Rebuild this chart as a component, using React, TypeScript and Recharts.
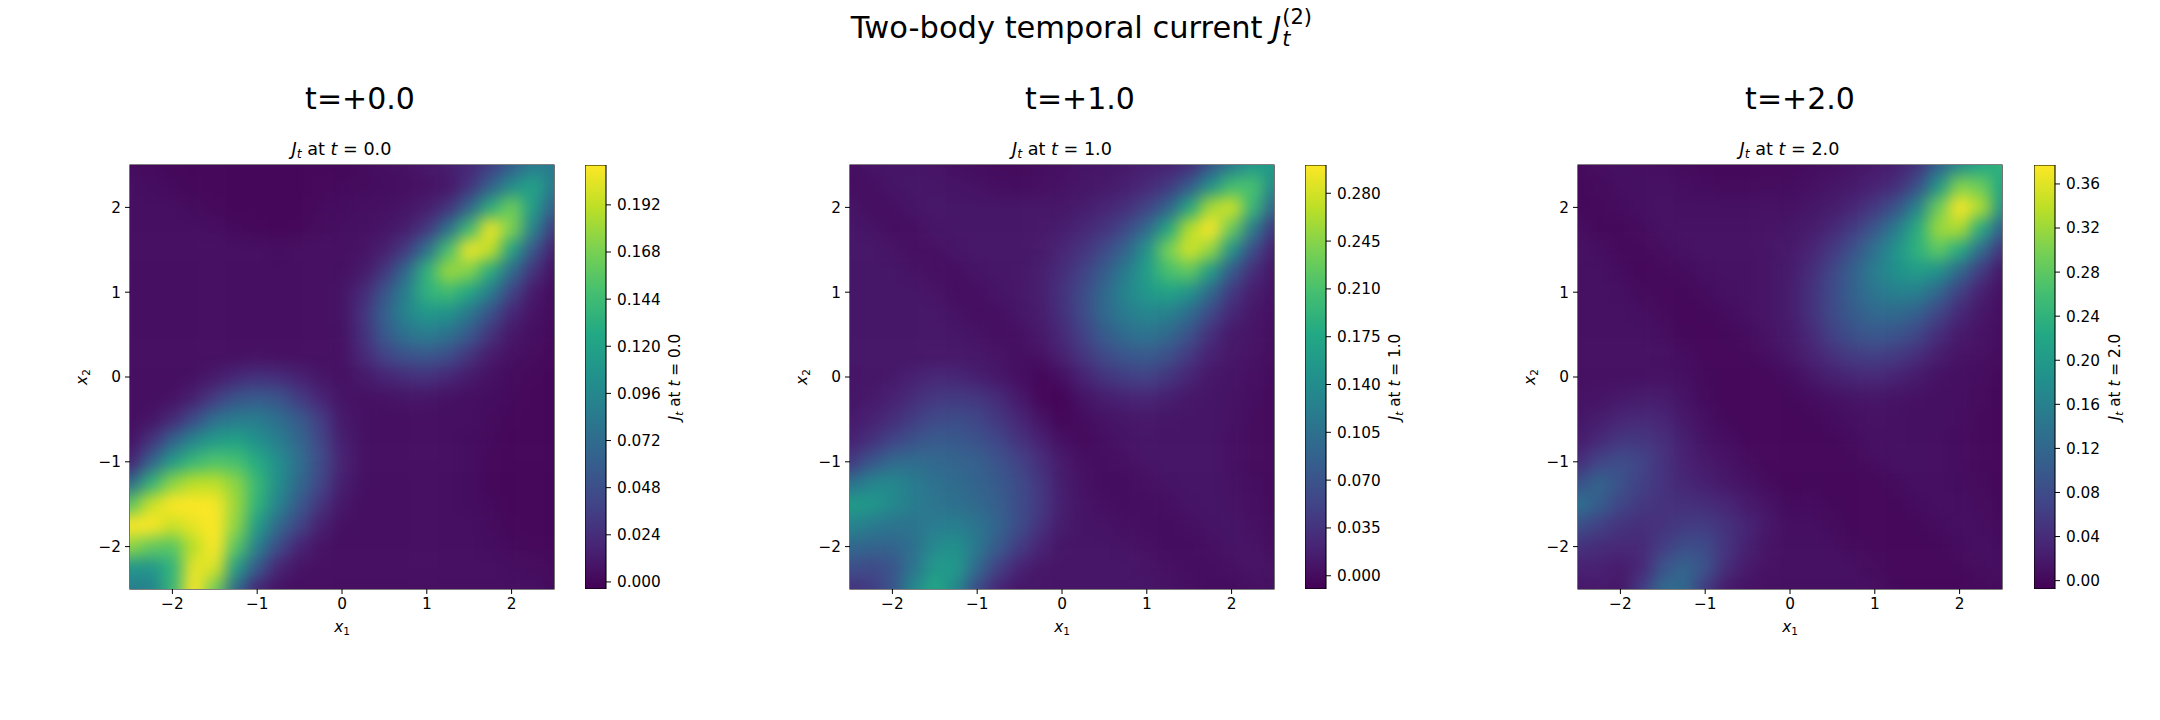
import React from "react";
import {
	Bar,
	BarChart,
	Label,
	ReferenceArea,
	Scatter,
	ScatterChart,
	XAxis,
	YAxis,
} from "recharts";

const FONT = "'DejaVu Sans', sans-serif";

const X1_VALUES = [-2.5, -2.25, -2, -1.75, -1.5, -1.25, -1, -0.75, -0.5, -0.25, 0, 0.25, 0.5, 0.75, 1, 1.25, 1.5, 1.75, 2, 2.25, 2.5];
const X2_VALUES = [2.5, 2.25, 2, 1.75, 1.5, 1.25, 1, 0.75, 0.5, 0.25, 0, -0.25, -0.5, -0.75, -1, -1.25, -1.5, -1.75, -2, -2.25, -2.5];
const AXIS_TICKS = [-2, -1, 0, 1, 2];

// J_t, in thousandths. rows go from x2=2.5 down to x2=-2.5
const J_T0 = [
	[3, 2, 1, 0, 0, 0, 0, 0, 0, 0, 1, 3, 5, 7, 10, 14, 20, 35, 60, 85, 85],
	[5, 4, 2, 1, 0, 0, 0, 0, 0, 1, 2, 3, 4, 5, 6, 10, 28, 62, 100, 120, 85],
	[5, 5, 5, 3, 1, 0, 0, 0, 0, 2, 4, 5, 6, 8, 13, 28, 66, 130, 165, 115, 62],
	[5, 5, 5, 5, 4, 2, 1, 0, 1, 3, 5, 6, 8, 14, 30, 76, 142, 208, 170, 92, 34],
	[5, 5, 5, 5, 5, 5, 5, 4, 5, 5, 5, 7, 14, 32, 76, 146, 208, 192, 120, 54, 15],
	[5, 5, 5, 5, 5, 5, 5, 5, 5, 5, 6, 11, 30, 70, 134, 180, 172, 130, 72, 28, 7],
	[5, 5, 5, 5, 5, 5, 5, 5, 5, 5, 8, 22, 52, 90, 134, 145, 124, 86, 40, 11, 4],
	[5, 5, 5, 5, 5, 5, 5, 5, 5, 5, 8, 28, 62, 94, 110, 106, 82, 50, 20, 7, 3],
	[5, 5, 5, 5, 5, 5, 5, 5, 5, 5, 7, 26, 56, 78, 86, 78, 56, 28, 10, 4, 2],
	[5, 5, 5, 5, 5, 5, 6, 5, 5, 5, 6, 20, 38, 50, 54, 46, 28, 12, 5, 3, 1],
	[5, 5, 5, 6, 11, 21, 27, 24, 17, 9, 6, 11, 18, 24, 26, 20, 12, 6, 3, 1, 0],
	[5, 5, 7, 16, 34, 52, 58, 52, 34, 18, 8, 6, 7, 9, 8, 6, 5, 4, 2, 0, 0],
	[5, 8, 22, 46, 74, 86, 86, 74, 58, 34, 12, 6, 5, 5, 5, 5, 5, 3, 1, 0, 0],
	[7, 28, 64, 96, 114, 120, 104, 88, 68, 40, 15, 6, 5, 5, 5, 5, 4, 2, 0, 0, 0],
	[17, 64, 114, 140, 152, 148, 128, 102, 74, 44, 17, 6, 5, 5, 5, 5, 4, 1, 0, 0, 0],
	[70, 135, 175, 190, 190, 175, 140, 102, 70, 40, 15, 6, 5, 5, 5, 5, 4, 1, 0, 0, 0],
	[155, 195, 215, 215, 210, 180, 135, 92, 56, 28, 10, 5, 5, 5, 5, 5, 4, 2, 0, 0, 0],
	[215, 215, 195, 205, 215, 175, 115, 70, 40, 15, 6, 5, 5, 5, 5, 5, 5, 3, 1, 0, 0],
	[175, 160, 155, 190, 215, 155, 90, 45, 18, 7, 5, 5, 5, 5, 5, 5, 5, 4, 2, 1, 1],
	[108, 108, 135, 205, 200, 115, 55, 18, 7, 5, 5, 5, 5, 5, 5, 5, 5, 5, 4, 3, 2],
	[88, 92, 140, 220, 165, 70, 20, 7, 5, 5, 5, 5, 5, 5, 5, 5, 5, 5, 5, 5, 3],
];

const J_T1 = [
	[2, 7, 8, 8, 6, 3, 1, 0, 0, 1, 4, 7, 9, 12, 16, 20, 30, 72, 120, 155, 160],
	[2, 3, 8, 9, 8, 7, 5, 2, 1, 2, 6, 9, 12, 17, 25, 42, 78, 145, 205, 210, 135],
	[8, 2, 3, 8, 9, 9, 9, 9, 9, 9, 10, 14, 22, 32, 50, 88, 172, 260, 280, 195, 90],
	[9, 7, 2, 3, 8, 9, 9, 9, 9, 10, 15, 24, 36, 58, 96, 172, 265, 305, 228, 118, 38],
	[9, 9, 6, 2, 3, 8, 9, 9, 9, 12, 22, 35, 58, 90, 148, 235, 280, 250, 148, 62, 17],
	[9, 9, 9, 6, 2, 3, 8, 9, 10, 15, 30, 50, 80, 120, 162, 210, 225, 160, 78, 30, 9],
	[9, 9, 9, 9, 6, 2, 3, 8, 10, 16, 35, 60, 96, 130, 155, 170, 150, 96, 42, 15, 6],
	[9, 9, 9, 9, 9, 6, 2, 3, 9, 14, 33, 60, 96, 120, 132, 126, 100, 58, 24, 9, 4],
	[9, 9, 9, 9, 9, 9, 6, 2, 4, 10, 26, 50, 80, 100, 108, 96, 68, 32, 12, 6, 3],
	[9, 9, 9, 9, 10, 10, 9, 6, 1, 4, 18, 37, 58, 72, 78, 65, 40, 18, 9, 5, 1],
	[8, 9, 12, 19, 24, 24, 17, 10, 3, -6, 4, 20, 37, 47, 50, 38, 22, 10, 7, 3, 0],
	[8, 12, 19, 30, 40, 43, 40, 28, 12, -5, -6, 7, 15, 20, 22, 17, 10, 8, 6, 1, 0],
	[12, 19, 30, 46, 58, 63, 55, 40, 23, 6, -5, 1, 6, 9, 10, 9, 8, 8, 5, 0, 0],
	[19, 33, 52, 68, 78, 76, 68, 55, 36, 18, 4, -2, 3, 7, 8, 8, 8, 8, 4, 0, 0],
	[40, 72, 94, 100, 94, 90, 84, 68, 50, 30, 12, 2, 1, 3, 7, 8, 8, 8, 4, 0, 0],
	[105, 130, 135, 120, 105, 98, 90, 78, 60, 38, 15, 5, 1, 1, 3, 7, 8, 8, 5, 1, 0],
	[160, 155, 135, 120, 110, 105, 95, 82, 62, 40, 17, 7, 3, 1, 1, 3, 7, 8, 6, 2, 0],
	[130, 118, 110, 110, 120, 122, 110, 88, 62, 34, 14, 7, 6, 3, 1, 1, 3, 7, 8, 3, 1],
	[95, 90, 88, 105, 135, 145, 115, 78, 45, 20, 9, 8, 8, 6, 3, 1, 1, 3, 7, 6, 2],
	[65, 58, 70, 110, 155, 155, 95, 48, 20, 9, 8, 8, 8, 8, 6, 3, 1, 1, 3, 6, 5],
	[35, 45, 72, 135, 175, 135, 60, 22, 9, 8, 8, 8, 8, 8, 8, 6, 3, 1, 1, 3, 5],
];

const J_T2 = [
	[3, 7, 9, 8, 6, 3, 1, 0, 0, 1, 2, 6, 9, 13, 18, 26, 48, 112, 175, 220, 240],
	[1, 3, 8, 9, 9, 7, 5, 3, 3, 4, 6, 10, 14, 20, 28, 44, 85, 192, 305, 290, 220],
	[1, 2, 5, 9, 10, 10, 10, 10, 10, 10, 11, 15, 22, 33, 55, 92, 165, 290, 380, 330, 195],
	[7, 1, 1, 4, 10, 11, 11, 11, 11, 12, 15, 22, 36, 60, 96, 152, 230, 320, 330, 228, 110],
	[10, 6, 1, 1, 4, 10, 11, 11, 11, 13, 18, 30, 54, 90, 136, 188, 238, 280, 228, 128, 50],
	[10, 10, 5, 0, 1, 4, 10, 11, 11, 13, 22, 42, 74, 112, 154, 186, 205, 186, 122, 58, 18],
	[10, 10, 9, 3, 0, 1, 4, 10, 11, 13, 23, 46, 80, 114, 142, 160, 158, 118, 64, 26, 9],
	[10, 10, 10, 8, 2, 0, 1, 5, 10, 13, 23, 46, 78, 104, 122, 125, 108, 72, 36, 15, 8],
	[10, 10, 10, 10, 6, 1, 0, 1, 5, 11, 20, 38, 66, 88, 96, 92, 72, 42, 20, 11, 6],
	[10, 10, 10, 10, 9, 5, 0, 0, 1, 6, 15, 28, 44, 58, 63, 56, 40, 22, 11, 8, 3],
	[10, 10, 10, 10, 10, 9, 2, 0, 0, 0, 6, 17, 26, 34, 36, 30, 20, 11, 8, 5, 1],
	[11, 13, 18, 23, 20, 13, 3, 0, 0, 0, 1, 5, 10, 13, 14, 12, 10, 9, 8, 3, 0],
	[16, 23, 33, 38, 31, 18, 9, 1, 0, 0, 0, 1, 5, 9, 10, 10, 9, 9, 7, 1, 0],
	[22, 38, 54, 54, 43, 26, 12, 7, 0, 0, 0, 0, 1, 5, 9, 10, 9, 8, 5, 1, 0],
	[40, 70, 82, 70, 47, 28, 18, 11, 4, 0, 0, 0, 0, 1, 5, 9, 9, 8, 5, 1, 0],
	[88, 115, 90, 66, 47, 35, 26, 18, 11, 2, 0, 1, 0, 0, 0, 4, 9, 8, 6, 2, 0],
	[135, 105, 72, 55, 47, 45, 40, 33, 20, 11, 3, 5, 1, 0, 0, 1, 5, 9, 7, 4, 1],
	[85, 66, 49, 43, 47, 58, 60, 47, 31, 16, 8, 8, 4, 0, 0, 0, 1, 5, 9, 6, 3],
	[48, 40, 37, 37, 60, 84, 80, 50, 26, 11, 9, 9, 8, 3, 0, 0, 0, 1, 5, 8, 5],
	[27, 27, 20, 35, 90, 115, 88, 40, 18, 10, 9, 9, 9, 8, 3, 0, 0, 0, 1, 4, 7],
	[18, 20, 17, 60, 125, 125, 58, 20, 11, 9, 9, 9, 9, 9, 7, 2, 0, 0, 0, 1, 3],
];

const TICKS_T0 = [0, 0.024, 0.048, 0.072, 0.096, 0.12, 0.144, 0.168, 0.192];
const TICKS_T1 = [0, 0.035, 0.07, 0.105, 0.14, 0.175, 0.21, 0.245, 0.28];
const TICKS_T2 = [0, 0.04, 0.08, 0.12, 0.16, 0.2, 0.24, 0.28, 0.32, 0.36];

const VIRIDIS = ["#440154", "#482475", "#414487", "#355f8d", "#2a788e", "#21918c", "#22a884", "#44bf70", "#7ad151", "#bddf26", "#fde725"];

const PANELS = [
	{ time: "0.0", grid: J_T0, ticks: TICKS_T0, digits: 3, vmin: -0.0036, vmax: 0.2123, plotLeft: 129.5, barLeft: 585, titleCenter: 360 },
	{ time: "1.0", grid: J_T1, ticks: TICKS_T1, digits: 3, vmin: -0.0097, vmax: 0.3007, plotLeft: 850, barLeft: 1305, titleCenter: 1080 },
	{ time: "2.0", grid: J_T2, ticks: TICKS_T2, digits: 2, vmin: -0.0076, vmax: 0.3772, plotLeft: 1577.5, barLeft: 2033.5, titleCenter: 1800 },
];

const PLOT_TOP = 164.7;
const PLOT_SIZE = 424;
const BAR_WIDTH = 21;
const CELL = PLOT_SIZE / 20;
const TICK_FONT = 15.3;

const hexToRgb = (hex: string) => [1, 3, 5].map((i) => Number.parseInt(hex.slice(i, i + 2), 16));

const viridisColor = (t: number) => {
	const pos = Math.min(Math.max(t, 0), 1) * (VIRIDIS.length - 1);
	const lo = Math.floor(pos);
	const hi = Math.min(lo + 1, VIRIDIS.length - 1);
	const a = hexToRgb(VIRIDIS[lo]);
	const b = hexToRgb(VIRIDIS[hi]);
	const mix = a.map((v, i) => Math.round(v + (b[i] - v) * (pos - lo)));
	return `rgb(${mix.join(",")})`;
};

const minus = (v: number) => String(v).replace("-", "\u2212");

const textBase: React.CSSProperties = {
	position: "absolute",
	fontFamily: FONT,
	color: "#000",
	whiteSpace: "nowrap",
	transform: "translateX(-50%)",
	lineHeight: 1,
};

const AxisName = ({ x, y, sub, rotate }: { x: number; y: number; sub: string; rotate?: boolean }) => (
	<text
		x={x}
		y={y}
		textAnchor="middle"
		fontFamily={FONT}
		fontSize={TICK_FONT}
		fill="#000"
		transform={rotate ? `rotate(-90 ${x} ${y})` : undefined}
	>
		<tspan fontStyle="italic">x</tspan>
		<tspan fontSize={10.5} dy={3}>
			{sub}
		</tspan>
	</text>
);

const Heatmap = ({ panel, index }: { panel: (typeof PANELS)[number]; index: number }) => {
	const cells = panel.grid.flatMap((row, r) =>
		row.map((j, c) => ({ x1: X1_VALUES[c], x2: X2_VALUES[r], j: j / 1000 })),
	);
	const drawCell = (props: any) => {
		const { cx, cy, payload } = props;
		// border cells run past the frame so the blur has no fade at the edges
		const padL = payload.x1 === -2.5 ? 40 : 0;
		const padR = payload.x1 === 2.5 ? 40 : 0;
		const padT = payload.x2 === 2.5 ? 40 : 0;
		const padB = payload.x2 === -2.5 ? 40 : 0;
		return (
			<rect
				x={cx - CELL / 2 - padL}
				y={cy - CELL / 2 - padT}
				width={CELL + padL + padR + 0.5}
				height={CELL + padT + padB + 0.5}
				fill={viridisColor((payload.j - panel.vmin) / (panel.vmax - panel.vmin))}
			/>
		);
	};
	return (
		<div className={`heat-${index}`} style={{ position: "absolute", left: panel.plotLeft - 60, top: PLOT_TOP - 10 }}>
			<style>{`.heat-${index} .recharts-scatter{filter:url(#blur-${index});clip-path:url(#clip-${index})}`}</style>
			<ScatterChart
				width={60 + PLOT_SIZE + 10}
				height={10 + PLOT_SIZE + 60}
				margin={{ top: 10, right: 10, bottom: 0, left: 0 }}
			>
				<defs>
					<filter id={`blur-${index}`} x="-20%" y="-20%" width="140%" height="140%" colorInterpolationFilters="sRGB">
						<feGaussianBlur stdDeviation={8} />
					</filter>
					<clipPath id={`clip-${index}`} clipPathUnits="userSpaceOnUse">
						<rect x={60} y={10} width={PLOT_SIZE} height={PLOT_SIZE} />
					</clipPath>
				</defs>
				<XAxis
					type="number"
					dataKey="x1"
					domain={[-2.5, 2.5]}
					ticks={AXIS_TICKS}
					tickFormatter={minus}
					height={60}
					axisLine={false}
					tickLine={{ stroke: "#000" }}
					tickSize={5}
					tickMargin={4}
					tick={{ fill: "#000", fontSize: TICK_FONT, fontFamily: FONT }}
				>
					<Label content={({ viewBox }: any) => <AxisName x={viewBox.x + viewBox.width / 2} y={viewBox.y + 43} sub="1" />} />
				</XAxis>
				<YAxis
					type="number"
					dataKey="x2"
					domain={[-2.5, 2.5]}
					ticks={AXIS_TICKS}
					tickFormatter={minus}
					width={60}
					axisLine={false}
					tickLine={{ stroke: "#000" }}
					tickSize={5}
					tickMargin={4}
					tick={{ fill: "#000", fontSize: TICK_FONT, fontFamily: FONT }}
				>
					<Label
						content={({ viewBox }: any) => (
							<AxisName x={viewBox.x + 17} y={viewBox.y + viewBox.height / 2} sub="2" rotate />
						)}
					/>
				</YAxis>
				<Scatter data={cells} shape={drawCell} isAnimationActive={false} />
				<ReferenceArea x1={-2.5} x2={2.5} y1={-2.5} y2={2.5} fill="none" stroke="#000" strokeWidth={1.1} />
			</ScatterChart>
		</div>
	);
};

const Colorbar = ({ panel, index }: { panel: (typeof PANELS)[number]; index: number }) => (
	<div style={{ position: "absolute", left: panel.barLeft, top: PLOT_TOP - 10 }}>
		<BarChart
			width={BAR_WIDTH + 100}
			height={10 + PLOT_SIZE + 10}
			data={[{ name: "J", range: [panel.vmin, panel.vmax] }]}
			margin={{ top: 10, right: 0, bottom: 10, left: 0 }}
			barCategoryGap={0}
		>
			<defs>
				<linearGradient id={`viridis-${index}`} x1="0" y1="1" x2="0" y2="0">
					{VIRIDIS.map((c, i) => (
						<stop key={c} offset={i / (VIRIDIS.length - 1)} stopColor={c} />
					))}
				</linearGradient>
			</defs>
			<XAxis dataKey="name" hide />
			<YAxis
				orientation="right"
				type="number"
				domain={[panel.vmin, panel.vmax]}
				ticks={panel.ticks}
				tickFormatter={(v: number) => v.toFixed(panel.digits)}
				width={100}
				allowDataOverflow
				axisLine={false}
				tickLine={{ stroke: "#000" }}
				tickSize={5}
				tickMargin={6}
				tick={{ fill: "#000", fontSize: TICK_FONT, fontFamily: FONT }}
			>
				<Label
					content={({ viewBox }: any) => {
						const x = viewBox.x + (panel.digits === 3 ? 74 : 65);
						const y = viewBox.y + viewBox.height / 2;
						return (
							<text x={x} y={y} textAnchor="middle" fontFamily={FONT} fontSize={TICK_FONT} fill="#000" transform={`rotate(-90 ${x} ${y})`}>
								<tspan fontStyle="italic">J</tspan>
								<tspan fontStyle="italic" fontSize={10.5} dy={3}>
									t
								</tspan>
								<tspan dy={-3}> at </tspan>
								<tspan fontStyle="italic">t</tspan>
								<tspan> = {panel.time}</tspan>
							</text>
						);
					}}
				/>
			</YAxis>
			<Bar dataKey="range" fill={`url(#viridis-${index})`} stroke="#000" strokeWidth={1.1} isAnimationActive={false} />
		</BarChart>
	</div>
);

export default function App() {
	return (
		<div style={{ position: "absolute", left: 0, top: 0, width: 2160, height: 720, background: "#fff", overflow: "hidden" }}>
			<div style={{ ...textBase, left: 1080, top: 13, fontSize: 30.5 }}>
				Two-body temporal current <i>J</i>
				<span style={{ position: "relative", display: "inline-block", width: 28, height: 10 }}>
					<i style={{ position: "absolute", left: 1, top: 1, fontSize: 21 }}>t</i>
					<span style={{ position: "absolute", left: 1, top: -21, fontSize: 21 }}>(2)</span>
				</span>
			</div>
			{PANELS.map((panel, i) => (
				<React.Fragment key={panel.time}>
					<div style={{ ...textBase, left: panel.titleCenter, top: 84, fontSize: 30 }}>t=+{panel.time}</div>
					<div style={{ ...textBase, left: panel.plotLeft + PLOT_SIZE / 2, top: 141, fontSize: 17.6 }}>
						<i>J</i>
						<i style={{ fontSize: 12.5, position: "relative", top: 3 }}>t</i> at <i>t</i> = {panel.time}
					</div>
					<Heatmap panel={panel} index={i} />
					<Colorbar panel={panel} index={i} />
				</React.Fragment>
			))}
		</div>
	);
}
